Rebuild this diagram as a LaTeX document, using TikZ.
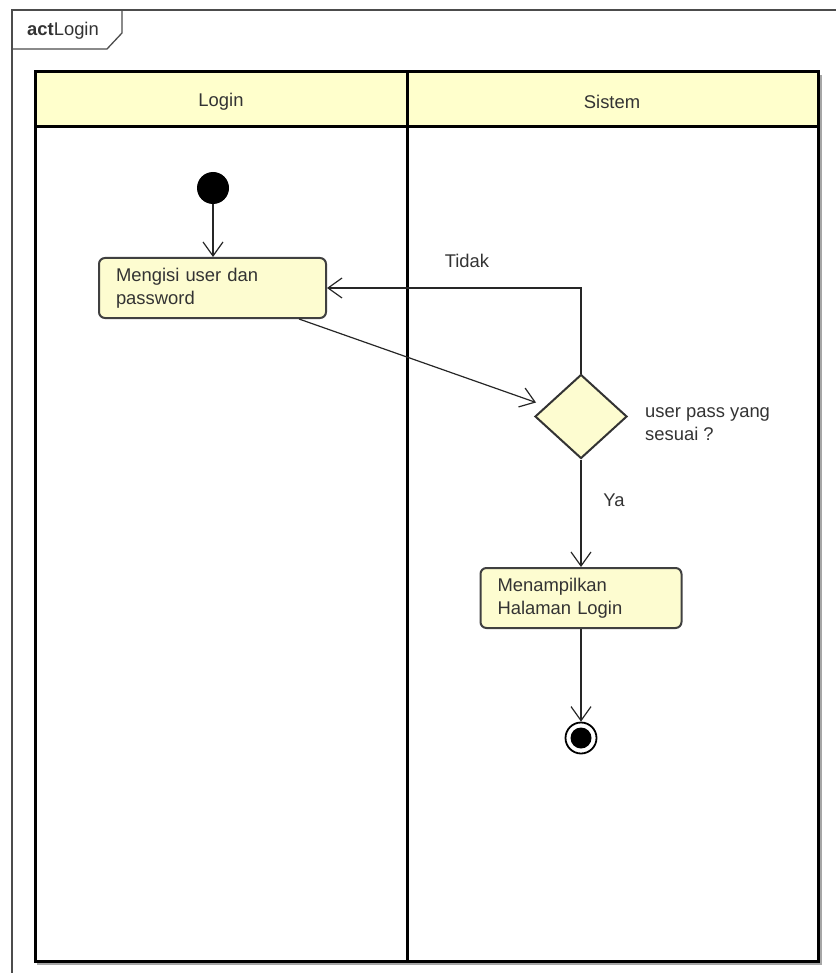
\documentclass[tikz,border=0pt]{standalone}
\usepackage{fontspec}
\setmainfont{Liberation Sans}
\usetikzlibrary{arrows.meta,shapes.geometric,calc}
\definecolor{laneyellow}{HTML}{FFFFCC}
\definecolor{boxyellow}{HTML}{FDFCD0}
\definecolor{txt}{HTML}{333333}
\begin{document}
\begin{tikzpicture}[x=1pt,y=-1pt,
  font=\fontsize{18.4}{23}\selectfont,
  every node/.style={text=txt},
  framestyle/.style={draw=black!70, line width=1.3pt},
  lane/.style={draw=black, line width=3pt},
  laneshadow/.style={draw=black!35, line width=2pt},
  action/.style={rectangle, rounded corners=6pt, draw=black!75, line width=2pt, fill=boxyellow, align=left, inner xsep=17pt, inner ysep=0pt, minimum height=60pt},
  decision/.style={diamond, draw=black!80, line width=2pt, fill=boxyellow, minimum width=92pt, minimum height=84pt, inner sep=0pt},
  startnode/.style={circle, fill=black, minimum size=32pt, inner sep=0pt},
  endnode/.style={circle, draw=black, fill=white, line width=1.8pt, minimum size=31pt, inner sep=0pt,
    path picture={\fill[black] (path picture bounding box.center) circle (10.5pt);}},
  flow/.style={draw=black!85, line width=1.2pt, -{Straight Barb[length=14pt,width=20pt]}},
  lbl/.style={inner sep=1pt}
]
\useasboundingbox (0,0) rectangle (835,973);
% frame
\draw[framestyle] (12,990) -- (12,10) -- (850,10);
\draw[framestyle] (12,49) -- (107,49) -- (122,33) -- (122,10);
\node[anchor=west, inner sep=0pt] (framelabel) at (27,31) {{\bfseries act}Login};
% lanes
\fill[laneyellow] (35,72) rectangle (818,127);
\draw[laneshadow] (37,964) -- (821,964) -- (821,75);
\draw[lane] (35,72) rectangle (818,961);
\draw[lane] (35,127) -- (818,127);
\draw[lane] (407,72) -- (407,961);
\node (laneLogin) at (221,102) {Login};
\node (laneSistem) at (612,102) {Sistem};
% nodes
\node[startnode] (start) at (213,188) {};
\node[action, text width=193pt] (a1) at (212.5,288) {Mengisi user dan\\password};
\node[decision] (d) at (581,416.5) {};
\node[anchor=west, align=left, inner sep=0pt] (q) at (645,424) {user pass yang\\sesuai ?};
\node[action, text width=167pt] (a2) at (581,598) {Menampilkan\\Halaman Login};
\node[endnode] (end) at (581,738) {};
% edges
\draw[flow] (start) -- (start |- a1.north);
\draw[flow] ($(a1.south west)+(201,0)$) -- ($(d.west)+(2,-14)$);
\draw[flow] (d.north) |- (a1.east);
\node[lbl] (tidak) at (467,261) {Tidak};
\draw[flow] (d.south) -- (a2.north);
\node[lbl] (ya) at (614,500) {Ya};
\draw[flow] (a2) -- (end);
\end{tikzpicture}
\end{document}
